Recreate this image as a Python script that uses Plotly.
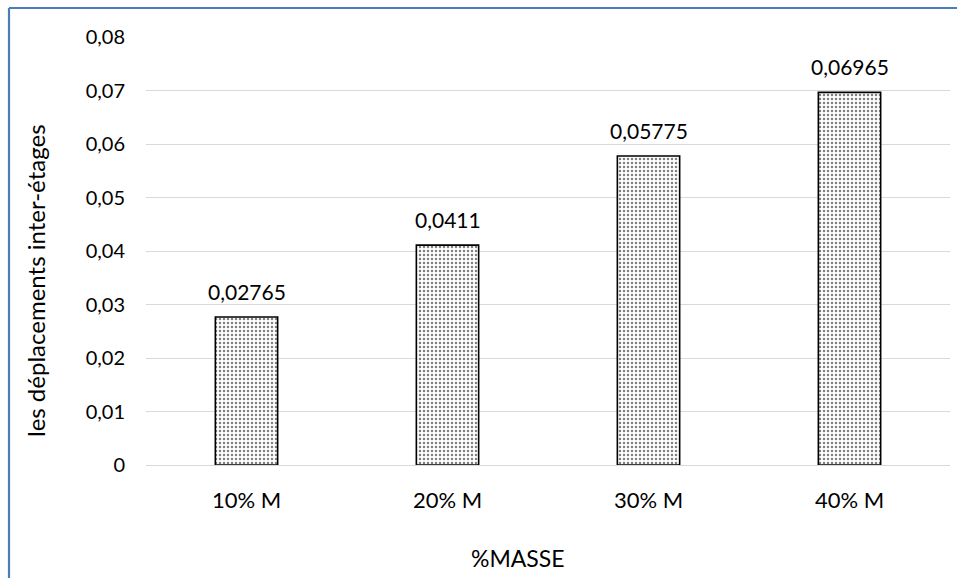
import plotly.graph_objects as go

categories = ["10% M", "20% M", "30% M", "40% M"]
values = [0.02765, 0.0411, 0.05775, 0.06965]
value_labels = ["0,02765", "0,0411", "0,05775", "0,06965"]
y_tickvals = [0, 0.01, 0.02, 0.03, 0.04, 0.05, 0.06, 0.07, 0.08]
y_ticktext = ["0", "0,01", "0,02", "0,03", "0,04", "0,05", "0,06", "0,07", "0,08"]
x_title = "%MASSE"
y_title = "les déplacements inter-étages"

W, H = 957, 578
ml, mr, mt, mb = 146, 7, 37, 113
pw, ph = W - ml - mr, H - mt - mb

def px_x(p):
    return (p - ml) / pw

def px_y(p):
    return (H - mb - p) / ph

FONT = "Lato"

fig = go.Figure()
fig.add_trace(go.Bar(
    x=categories, y=values,
    width=0.31,
    marker=dict(
        color="white",
        line=dict(color="black", width=1.6),
        pattern=dict(shape=".", fgcolor="black", bgcolor="white", size=4, solidity=0.3),
    ),
    hoverinfo="x+y",
))

annotations = [
    dict(x=c, y=v, text=t, xref="x", yref="y", showarrow=False,
         yanchor="bottom", yshift=11, font=dict(size=21, family=FONT, color="#000"))
    for c, v, t in zip(categories, values, value_labels)
]
annotations.append(dict(
    x=px_x(518), y=px_y(558), xref="paper", yref="paper", text=x_title,
    showarrow=False, xanchor="center", yanchor="middle",
    font=dict(size=23, family=FONT, color="#000")))
annotations.append(dict(
    x=px_x(35), y=px_y(280), xref="paper", yref="paper", text=y_title,
    showarrow=False, xanchor="center", yanchor="middle", textangle=-90,
    font=dict(size=24, family=FONT, color="#000")))

fig.update_layout(
    width=W, height=H,
    margin=dict(l=ml, r=mr, t=mt, b=mb),
    plot_bgcolor="white", paper_bgcolor="white",
    font=dict(family=FONT, size=20, color="#000000"),
    showlegend=False,
    annotations=annotations,
    xaxis=dict(
        ticklabelstandoff=20,
        showgrid=False, showline=False, zeroline=False,
        tickfont=dict(size=22),
    ),
    yaxis=dict(
        range=[0, 0.08],
        tickvals=y_tickvals, ticktext=y_ticktext,
        showgrid=True, gridcolor="#d9d9d9", gridwidth=1.3,
        zeroline=True, zerolinecolor="#d9d9d9", zerolinewidth=1.3,
        showline=False,
        ticklabelstandoff=20,
        tickfont=dict(size=20),
    ),
    shapes=[
        dict(type="line", xref="paper", yref="paper",
             x0=px_x(9), x1=px_x(960), y0=px_y(8), y1=px_y(8),
             line=dict(color="#4a7ebb", width=2.2)),
        dict(type="line", xref="paper", yref="paper",
             x0=px_x(9), x1=px_x(9), y0=px_y(8), y1=px_y(580),
             line=dict(color="#4a7ebb", width=2.2)),
    ],
)

fig.write_html(
    "out.html",
    config={"displayModeBar": False},
    post_script="document.body.style.margin='0';document.body.style.overflow='hidden';",
)
